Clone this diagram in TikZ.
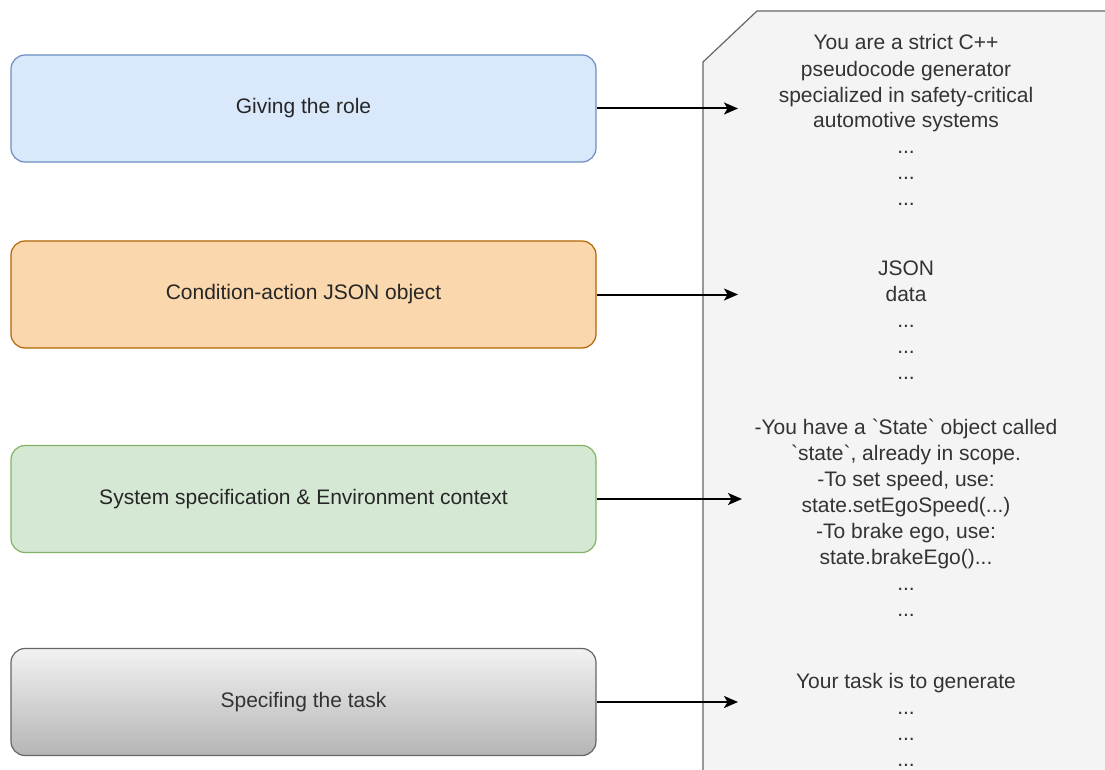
\documentclass[tikz,border=0pt]{standalone}
\usepackage{fontspec}
\setmainfont{Liberation Sans}
\usetikzlibrary{arrows.meta}
\definecolor{blueFill}{HTML}{DAE8FC}
\definecolor{blueLine}{HTML}{6C8EBF}
\definecolor{orangeFill}{HTML}{FAD7AC}
\definecolor{orangeLine}{HTML}{B46504}
\definecolor{greenFill}{HTML}{D5E8D4}
\definecolor{greenLine}{HTML}{82B366}
\definecolor{greyTop}{HTML}{F2F2F2}
\definecolor{greyBot}{HTML}{B5B5B5}
\definecolor{greyLine}{HTML}{666666}
\definecolor{cardFill}{HTML}{F4F4F4}
\definecolor{darkText}{HTML}{333333}
\tikzset{
  stage/.style={rounded corners=14pt, line width=1.2pt,
    minimum width=585pt, minimum height=107pt, inner sep=0pt,
    font=\fontsize{21}{26}\selectfont, text=black!85},
  prompttext/.style={align=center, inner sep=0pt, text=darkText,
    font=\fontsize{21}{26}\selectfont},
  feed/.style={line width=2pt, -{Stealth[length=14pt,width=12pt,inset=3.5pt]}}
}
\begin{document}
\begin{tikzpicture}[x=1pt,y=-1pt]
\useasboundingbox (0,0) rectangle (1105,770);
\fill[white] (0,0) rectangle (1105,770);

% prompt card with a cut top-left corner, running off the page
\begin{scope}
\clip (0,0) rectangle (1105,770);
\draw[fill=cardFill, draw=greyLine, line width=1.2pt]
  (703,790) -- (703,62) -- (757,11) -- (1120,11) -- (1120,790) -- cycle;
\end{scope}

% prompt stages
\node[stage, draw=blueLine, fill=blueFill] (b1) at (303.5,108.5) {Giving the role};
\node[stage, draw=orangeLine, fill=orangeFill] (b2) at (303.5,294.5) {Condition-action JSON object};
\node[stage, draw=greenLine, fill=greenFill] (b3) at (303.5,499) {System specification \& Environment context};
\node[stage, draw=greyLine, top color=greyTop, bottom color=greyBot, text=darkText] (b4) at (303.5,702) {Specifing the task};

% prompt contents (anchored on the baseline of the last line)
\node[prompttext, anchor=base] (c1) at (906,206) {You are a strict C++\\pseudocode generator\\specialized in safety-critical\\automotive systems\\...\\...\\...};
\node[prompttext, anchor=base] (c2) at (906,379) {JSON\\data\\...\\...\\...};
\node[prompttext, anchor=base] (c3) at (906,616) {-You have a \textasciigrave State\textasciigrave\ object called\\\textasciigrave state\textasciigrave, already in scope.\\-To set speed, use:\\state.setEgoSpeed(...)\\-To brake ego, use:\\state.brakeEgo()...\\...\\...};
\node[prompttext, anchor=base] (c4) at (906,766) {Your task is to generate\\...\\...\\...};

% arrow tips end just inside the card
\coordinate (tipx) at (738,0);
\draw[feed] (b1.east) -- (b1.east -| tipx);
\draw[feed] (b2.east) -- (b2.east -| tipx);
\draw[feed] (b3.east) -- ([xshift=4pt]b3.east -| tipx);
\draw[feed] (b4.east) -- (b4.east -| tipx);
\end{tikzpicture}
\end{document}
